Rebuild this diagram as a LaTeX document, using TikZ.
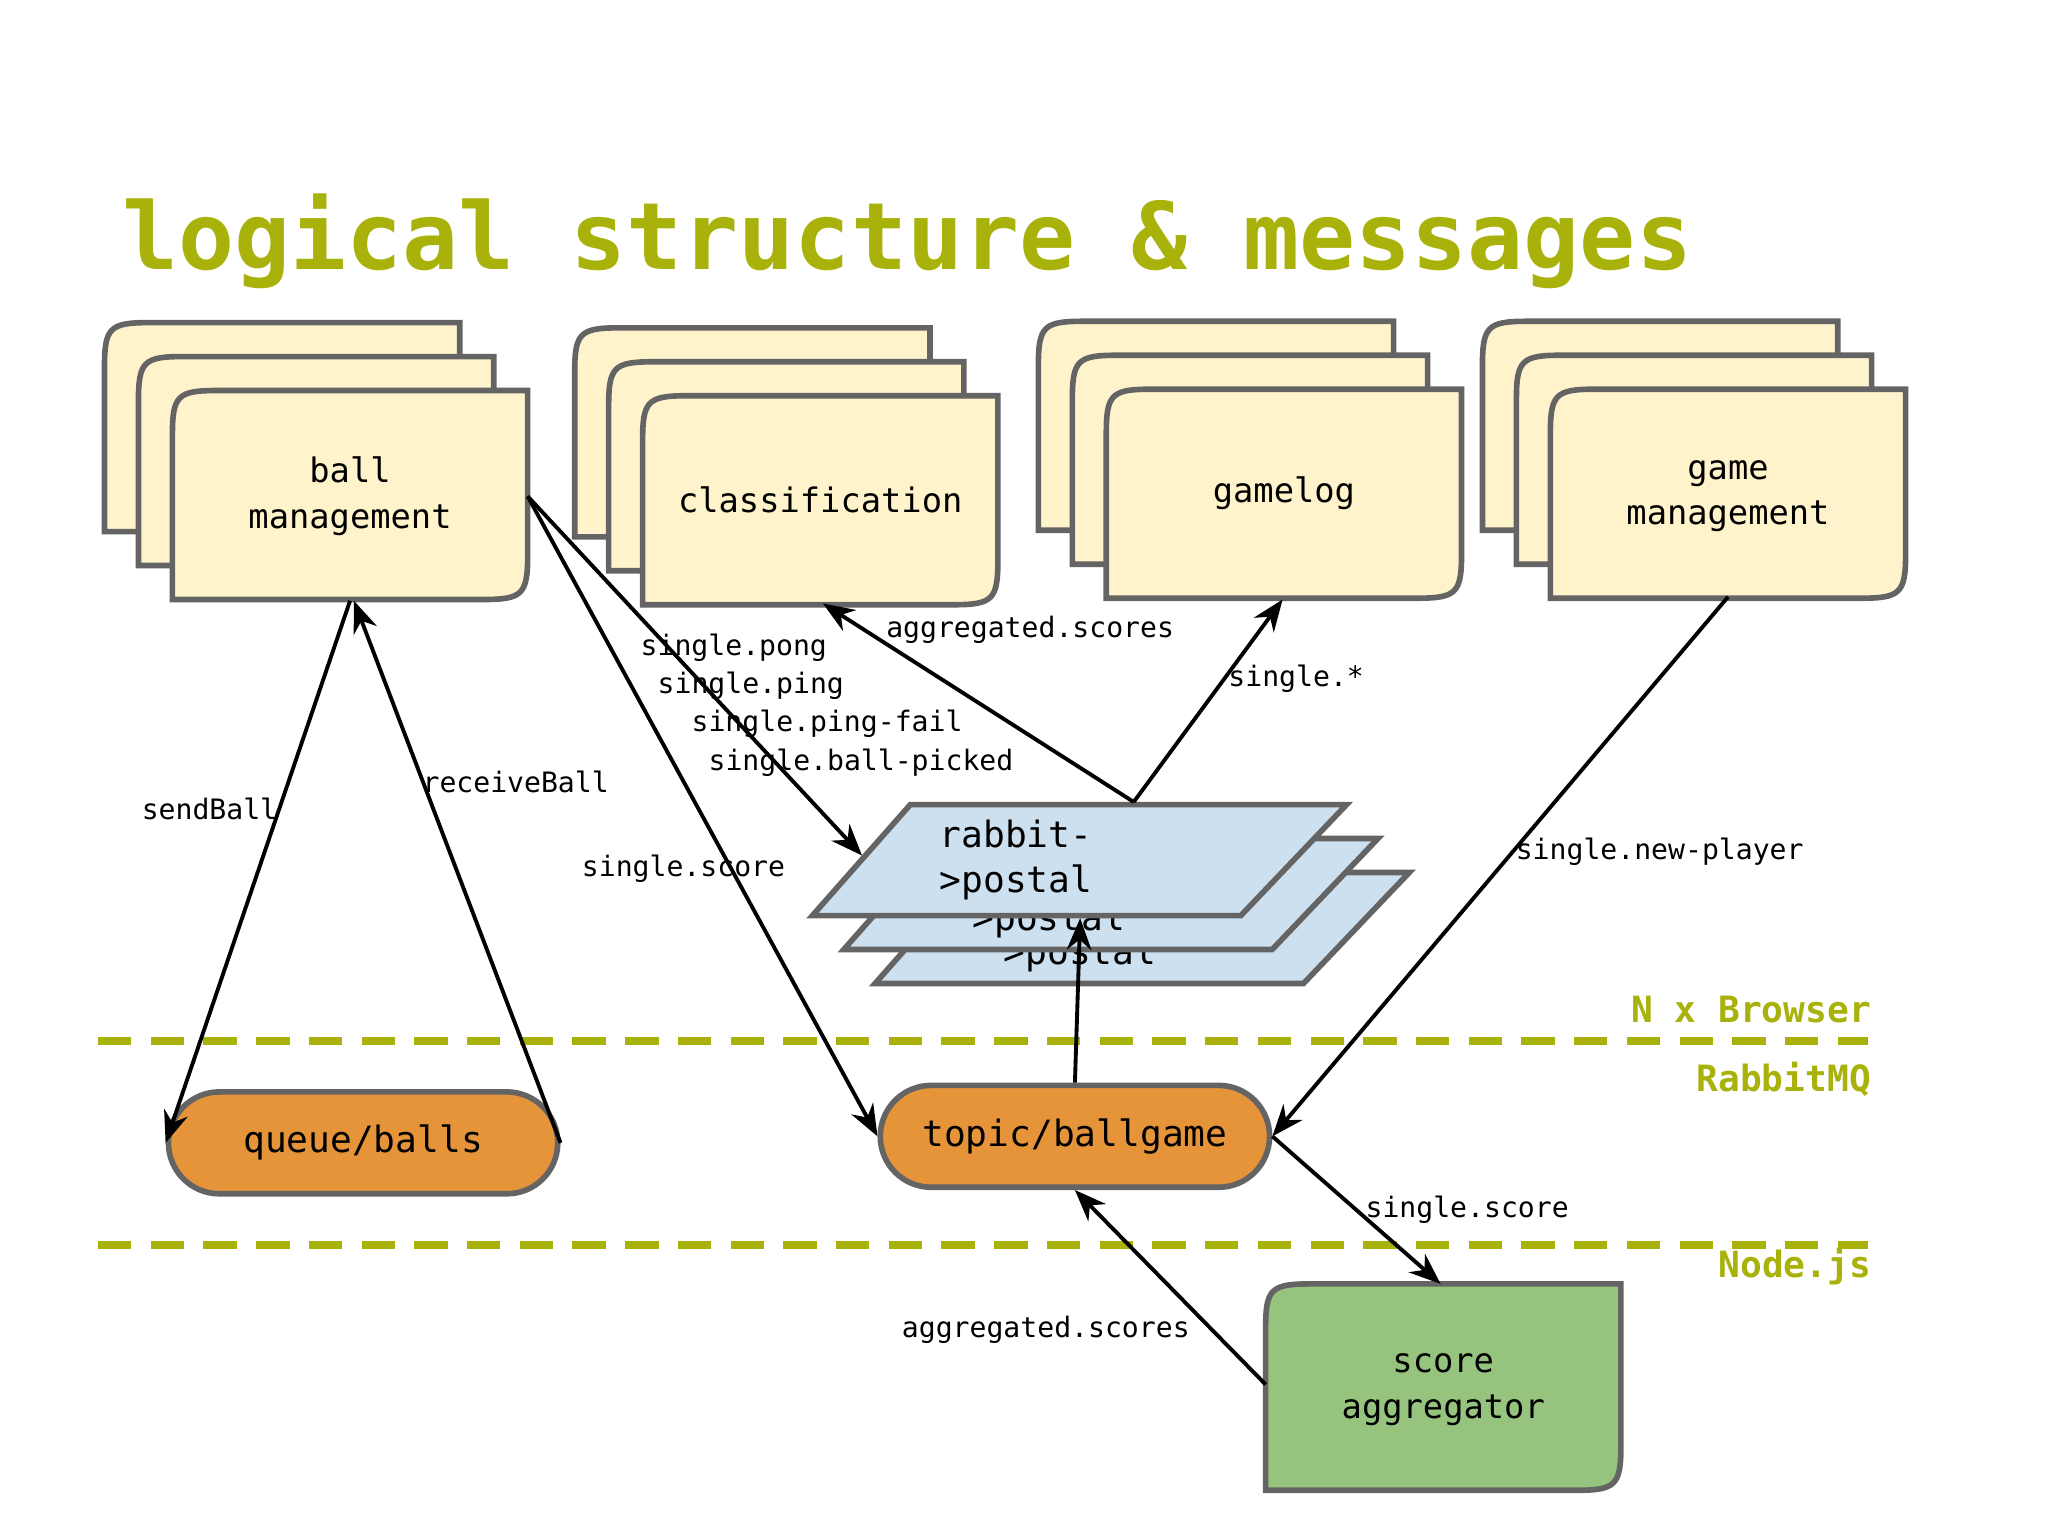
\documentclass[tikz,border=0pt]{standalone}
\usepackage{fontspec}
\setmainfont{DejaVu Sans Mono}
\usetikzlibrary{arrows.meta,shapes.misc}
\definecolor{olive}{RGB}{168,178,10}
\definecolor{paper}{RGB}{255,243,204}
\definecolor{edge}{RGB}{100,100,100}
\definecolor{sky}{RGB}{205,224,240}
\definecolor{pumpkin}{RGB}{230,148,58}
\definecolor{leaf}{RGB}{150,196,126}
\newcommand{\docbox}[5]{% x, y, w, h, fill
  \draw[boxline, fill=#5] (#1,#2+#4) -- (#1,#2+34) .. controls (#1,#2+4) and (#1+4,#2) .. (#1+34,#2)
    -- (#1+#3,#2) -- (#1+#3,#2+#4-34) .. controls (#1+#3,#2+#4-4) and (#1+#3-4,#2+#4) .. (#1+#3-34,#2+#4) -- cycle;}
\newcommand{\stack}[2]{% x, y of back box
  \docbox{#1}{#2}{272}{160}{paper}
  \docbox{#1+26}{#2+26}{272}{160}{paper}
  \docbox{#1+52}{#2+52}{272}{160}{paper}}
\newcommand{\postal}[2]{% x, y of top-left corner
  \draw[boxline, fill=sky] (#1,#2) -- (#1+334,#2) -- (#1+253,#2+85) -- (#1-75,#2+85) -- cycle;}
\begin{document}
\begin{tikzpicture}[x=0.01306cm, y=-0.01306cm, >={Stealth[length=9pt,width=7pt]},
  boxline/.style={edge, line width=1.6pt},
  lbl/.style={font=\fontsize{9.6}{13}\selectfont, align=center},
  msg/.style={font=\fontsize{8}{9.6}\selectfont, anchor=west, inner sep=0pt},
  layer/.style={font=\fontsize{10.3}{12}\selectfont\bfseries, text=olive, anchor=east, inner sep=0pt},
  pill/.style={rounded rectangle, draw=edge, line width=1.6pt, fill=pumpkin,
    minimum width=316*0.01306cm, minimum height=78*0.01306cm, font=\fontsize{10.3}{12}\selectfont},
  flow/.style={->, line width=1.1pt},
  tier/.style={olive, line width=2.4pt, dash pattern=on 9.5pt off 5.5pt}]
  \useasboundingbox (0,0) rectangle (1568,1176);
  % Title
  \node[anchor=west, inner sep=0pt, text=olive, font=\fontsize{26.5}{30}\selectfont\bfseries]
    (title) at (93,185) {logical structure \& messages};
  % Browser side
  \stack{80}{247}
  \stack{440}{251}
  \stack{795}{246}
  \stack{1135}{246}
  \node[lbl] (ball) at (268,380) {ball\\management};
  \node[lbl] (classif) at (628,383) {classification};
  \node[lbl] (gamelog) at (983,378) {gamelog};
  \node[lbl] (gamemgmt) at (1323,380) {game\\management};
  % Postal stack
  \postal{745}{668}
  \node[msg, font=\fontsize{10.3}{12}\selectfont] at (768,731) {>postal};
  \postal{721}{642}
  \node[msg, font=\fontsize{10.3}{12}\selectfont] at (744,705) {>postal};
  \postal{697}{616}
  \node[msg, font=\fontsize{10.3}{13}\selectfont, align=left, anchor=north west] (postal) at (719,627) {rabbit-\\>postal};
  % Layers
  \draw[tier] (75,797) -- (1430,797);
  \draw[tier] (75,953) -- (1430,953);
  \node[layer] (browser) at (1433,773) {N x Browser};
  \node[layer] (rabbitmq) at (1433,826) {RabbitMQ};
  \node[layer] (nodejs) at (1433,970) {Node.js};
  % Exchanges and queues
  \node[pill] (queue) at (278,875) {queue/balls};
  \node[pill] (topic) at (823,870) {topic/ballgame};
  \docbox{969}{983}{272}{158}{leaf}
  \node[lbl] (score) at (1105,1064) {score\\aggregator};
  % Anchor points
  \coordinate (ballR) at (404,380);
  \coordinate (ballB) at (268,460);
  \coordinate (ballB2) at (271,460);
  \coordinate (classB) at (630,462);
  \coordinate (logB) at (982,459);
  \coordinate (mgmtB) at (1323,457);
  \coordinate (postalT) at (868,614);
  \coordinate (postalL) at (660,655);
  \coordinate (postalB) at (827,703);
  \coordinate (scoreT) at (1103,983);
  \coordinate (scoreL) at (969,1060);
  % Messages
  \draw[flow] (ballR) -- (postalL);
  \draw[flow] (ballR) -- (topic.west);
  \draw[flow] (ballB) -- (queue.west);
  \draw[flow] (queue.east) -- (ballB2);
  \draw[flow] (postalT) -- (classB);
  \draw[flow] (postalT) -- (logB);
  \draw[flow] (mgmtB) -- (topic.east);
  \draw[flow] (topic.north) -- (postalB);
  \draw[flow] (topic.east) -- (scoreT);
  \draw[flow] (scoreL) -- (topic.south);
  \node[msg] at (490,496) {single.pong};
  \node[msg] at (503,525) {single.ping};
  \node[msg] at (529,554) {single.ping-fail};
  \node[msg] at (542,584) {single.ball-picked};
  \node[msg] at (445,665) {single.score};
  \node[msg] at (108,619) {sendBall};
  \node[msg] at (323,599) {receiveBall};
  \node[msg] at (678,482) {aggregated.scores};
  \node[msg] at (940,520) {single.*};
  \node[msg] at (1160,652) {single.new-player};
  \node[msg] at (1045,926) {single.score};
  \node[msg] at (690,1018) {aggregated.scores};
\end{tikzpicture}
\end{document}
